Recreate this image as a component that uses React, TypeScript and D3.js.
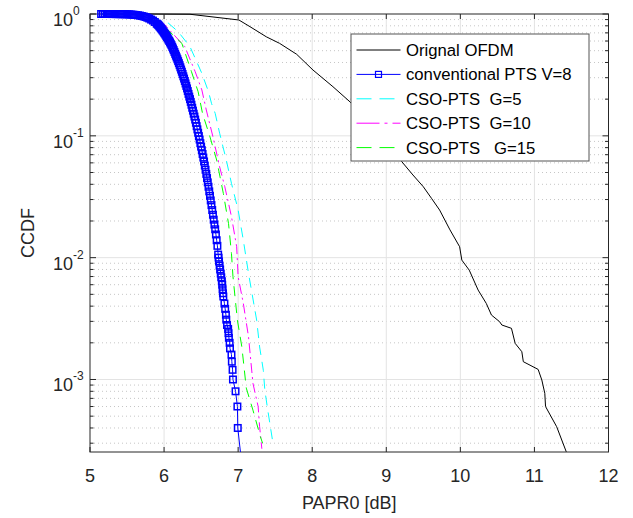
import React from "react";
import * as d3 from "d3";

// axis ticks
const paprTicks = [5, 6, 7, 8, 9, 10, 11, 12];
const decadeValues = [1e-3, 1e-2, 1e-1, 1];
const decadeExps = ["-3", "-2", "-1", "0"];

// Orignal OFDM
const origPapr = [5.15, 5.8, 6.35, 7.01, 7.16, 7.38, 7.56, 7.79, 8.01, 8.28, 8.51, 8.85, 9.21, 9.36, 9.5, 9.61, 9.72, 9.86, 9.99, 10.02, 10.12, 10.24, 10.35, 10.42, 10.53, 10.56, 10.69, 10.74, 10.83, 10.85, 11.05, 11.1, 11.14, 11.15, 11.3, 11.43];
const origCcdf = [1, 1, 0.995, 0.893, 0.787, 0.65, 0.574, 0.467, 0.347, 0.253, 0.19, 0.112, 0.0613, 0.0477, 0.0382, 0.0307, 0.0246, 0.0169, 0.0123, 0.00955, 0.0079, 0.00542, 0.00421, 0.00338, 0.00298, 0.0028, 0.00263, 0.00198, 0.00169, 0.0014, 0.00121, 0.00099, 0.00077, 0.0006, 0.00041, 0.000255];

// conventional PTS V=8 (one marker per point, dense like the original)
const ptsPapr = [
  5.15, 5.175, 5.2, 5.225, 5.25, 5.275, 5.3, 5.325, 5.35, 5.375, 5.4, 5.425, 5.45, 5.475, 5.5, 5.525, 5.55, 5.575, 5.6, 5.625,
  5.65, 5.675, 5.7, 5.725, 5.75, 5.775, 5.8, 5.825, 5.85, 5.875, 5.9, 5.91, 5.92, 5.93, 5.94, 5.95, 5.96, 5.97, 5.98, 5.99,
  6.0, 6.01, 6.02, 6.03, 6.04, 6.05, 6.06, 6.07, 6.08, 6.09, 6.1, 6.11, 6.12, 6.13, 6.14, 6.15, 6.16, 6.17, 6.18, 6.19,
  6.2, 6.21, 6.22, 6.23, 6.24, 6.25, 6.26, 6.27, 6.28, 6.29, 6.3, 6.31, 6.32, 6.33, 6.34, 6.35, 6.36, 6.37, 6.38, 6.39,
  6.4, 6.41, 6.42, 6.43, 6.44, 6.45, 6.46, 6.47, 6.48, 6.49, 6.5, 6.51, 6.52, 6.53, 6.54, 6.55, 6.56, 6.57, 6.58, 6.59,
  6.6, 6.61, 6.62, 6.63, 6.64, 6.65, 6.66, 6.67, 6.68, 6.69, 6.7, 6.71, 6.72, 6.73, 6.736, 6.742, 6.75, 6.757, 6.765, 6.772,
  6.78, 6.785, 6.79, 6.795, 6.8, 6.815, 6.825, 6.835, 6.84, 6.85, 6.865, 6.87, 6.875, 6.885, 6.89, 6.91, 6.915, 6.925, 6.93, 6.965,
  6.99, 6.995, 7.05,
];
const ptsCcdf = [
  1, 1, 1, 1, 1, 0.9995, 0.999, 0.999, 0.998, 0.998, 0.997, 0.997, 0.996, 0.995, 0.995, 0.993, 0.991, 0.988, 0.985, 0.981,
  0.976, 0.97, 0.963, 0.955, 0.945, 0.932, 0.918, 0.9, 0.883, 0.86, 0.835, 0.825, 0.815, 0.802, 0.788, 0.775, 0.761, 0.748, 0.733, 0.719,
  0.704, 0.69, 0.675, 0.66, 0.645, 0.63, 0.615, 0.6, 0.585, 0.57, 0.555, 0.538, 0.521, 0.505, 0.488, 0.471, 0.455, 0.44, 0.425, 0.41,
  0.395, 0.38, 0.365, 0.35, 0.336, 0.322, 0.308, 0.295, 0.282, 0.269, 0.257, 0.245, 0.233, 0.221, 0.21, 0.2, 0.19, 0.18, 0.17, 0.161,
  0.152, 0.144, 0.136, 0.128, 0.12, 0.113, 0.106, 0.0995, 0.0932, 0.087, 0.0815, 0.0762, 0.071, 0.0663, 0.0616, 0.057, 0.0527, 0.0487, 0.045, 0.0415,
  0.0382, 0.035, 0.0322, 0.0295, 0.027, 0.0246, 0.0225, 0.0205, 0.0187, 0.0171, 0.0155, 0.0139, 0.0125, 0.0106, 0.01, 0.0093, 0.0086, 0.008, 0.0074, 0.0069,
  0.0064, 0.006, 0.0055, 0.0051, 0.0048, 0.0042, 0.0038, 0.0034, 0.0031, 0.0028, 0.0026, 0.0024, 0.0022, 0.002, 0.0018, 0.0016, 0.0014, 0.0012, 0.001, 0.0008,
  0.0006, 0.0004, 0.0002,
];

// CSO-PTS G=5
const cso5Papr = [5.15, 5.67, 6.06, 6.19, 6.35, 6.51, 6.6, 6.64, 6.69, 6.75, 6.84, 6.91, 7.0, 7.07, 7.14, 7.25, 7.29, 7.34, 7.36, 7.4, 7.47];
const cso5Ccdf = [1, 0.985, 0.839, 0.716, 0.539, 0.326, 0.23, 0.185, 0.153, 0.105, 0.0633, 0.0407, 0.0246, 0.0139, 0.00743, 0.00307, 0.00185, 0.00119, 0.00082, 0.00056, 0.0003];

// CSO-PTS G=10
const cso10Papr = [5.15, 5.67, 5.99, 6.28, 6.42, 6.51, 6.57, 6.66, 6.75, 6.82, 6.91, 6.98, 7.0, 7.07, 7.14, 7.2, 7.27, 7.29, 7.32];
const cso10Ccdf = [1, 0.984, 0.839, 0.539, 0.336, 0.238, 0.163, 0.098, 0.0557, 0.0382, 0.0217, 0.0123, 0.00697, 0.00421, 0.00224, 0.00093, 0.0006, 0.00041, 0.00027];

// CSO-PTS G=15
const cso15Papr = [5.15, 5.67, 5.94, 6.24, 6.37, 6.46, 6.52, 6.62, 6.71, 6.8, 6.87, 6.91, 6.93, 6.99, 7.05, 7.11, 7.2, 7.3, 7.33];
const cso15Ccdf = [1, 0.984, 0.86, 0.574, 0.336, 0.23, 0.152, 0.098, 0.0633, 0.0337, 0.0191, 0.0108, 0.007, 0.00307, 0.00185, 0.00085, 0.00056, 0.00034, 0.0003];

const legendLabels = ["Orignal OFDM", "conventional PTS V=8", "CSO-PTS  G=5", "CSO-PTS  G=10", "CSO-PTS   G=15"];

const W = 633, H = 518;
const L = 90, R = 608.5, T = 14, B = 452;
const FONT = "'Liberation Sans', Arial, Helvetica, sans-serif";
const AX = "#262626";
const MS = 6.5; // marker size

export default function App() {
  const x = d3.scaleLinear().domain([5, 12]).range([L, R]);
  const y = d3.scaleLog().domain([2.54e-4, 1]).range([B, T]);

  const line = d3.line<[number, number]>().x(d => x(d[0])).y(d => y(d[1]));
  const pairs = (a: number[], b: number[]) => a.map((v, i) => [v, b[i]] as [number, number]);

  const minor: number[] = [];
  [1e-4, 1e-3, 1e-2, 1e-1].forEach(d => {
    for (let k = 2; k <= 9; k++) {
      const v = k * d;
      if (v >= 2.54e-4 && v < 1) minor.push(v);
    }
  });

  const series = [
    { p: origPapr, c: origCcdf, color: "#000000", dash: "" },
    { p: cso5Papr, c: cso5Ccdf, color: "#00ffff", dash: "10,7" },
    { p: cso10Papr, c: cso10Ccdf, color: "#ff00ff", dash: "10,4,2,4" },
    { p: cso15Papr, c: cso15Ccdf, color: "#00ff00", dash: "10,7" },
  ];

  const ptsPts = pairs(ptsPapr, ptsCcdf);
  const lx = 351, ly = 34, lw = 238, lh = 127;
  const legendStyles = [
    { color: "#000000", dash: "" },
    { color: "#0000ff", dash: "" },
    { color: "#00ffff", dash: "15,8" },
    { color: "#ff00ff", dash: "23,5,3,5" },
    { color: "#00ff00", dash: "15,8" },
  ];

  return (
    <svg width={W} height={H} style={{ position: "absolute", left: 0, top: 0, background: "#fff" }} fontFamily={FONT}>
      <defs>
        <clipPath id="plot">
          <rect x={L} y={T - 4} width={R - L} height={B - T + 4} />
        </clipPath>
      </defs>
      <rect x={0} y={0} width={W} height={H} fill="#fff" />
      {/* grid */}
      {minor.map(v => (
        <line key={"m" + v} x1={L} x2={R} y1={y(v)} y2={y(v)} stroke="#c6c6c6" strokeWidth={1} strokeDasharray="1,3" />
      ))}
      {decadeValues.slice(0, 3).map(v => (
        <line key={"g" + v} x1={L} x2={R} y1={y(v)} y2={y(v)} stroke="#e3e3e3" strokeWidth={1} />
      ))}
      {paprTicks.slice(1, -1).map(v => (
        <line key={"gx" + v} x1={x(v)} x2={x(v)} y1={T} y2={B} stroke="#e3e3e3" strokeWidth={1} />
      ))}
      {/* box */}
      <rect x={L} y={T} width={R - L} height={B - T} fill="none" stroke={AX} strokeWidth={1} />
      {/* data */}
      <g clipPath="url(#plot)" fill="none">
        {series.map((s, i) => (
          <path key={i} d={line(pairs(s.p, s.c)) || ""} stroke={s.color} strokeWidth={1} strokeDasharray={s.dash || undefined} />
        ))}
        <path d={line(ptsPts) || ""} stroke="#0000ff" strokeWidth={1} />
        {ptsPts.map((d, i) => (
          <rect key={i} x={x(d[0]) - MS / 2} y={y(d[1]) - MS / 2} width={MS} height={MS} stroke="#0000ff" strokeWidth={1.5} fill="none" />
        ))}
      </g>
      {/* ticks */}
      {paprTicks.map(v => (
        <g key={"tx" + v}>
          <line x1={x(v)} x2={x(v)} y1={B} y2={B - 5} stroke={AX} />
          <line x1={x(v)} x2={x(v)} y1={T} y2={T + 5} stroke={AX} />
          <text x={x(v)} y={482} textAnchor="middle" fontSize={18} fill={AX}>{v}</text>
        </g>
      ))}
      {decadeValues.map((v, i) => (
        <g key={"ty" + v}>
          <line x1={L} x2={L + 6} y1={y(v)} y2={y(v)} stroke={AX} />
          <line x1={R} x2={R - 6} y1={y(v)} y2={y(v)} stroke={AX} />
          <text x={73} y={y(v) + 12} textAnchor="end" fontSize={18} fill={AX}>10</text>
          <text x={73} y={y(v) + 1} textAnchor="start" fontSize={12} fill={AX}>{decadeExps[i]}</text>
        </g>
      ))}
      {minor.map(v => (
        <g key={"mt" + v}>
          <line x1={L} x2={L + 3.5} y1={y(v)} y2={y(v)} stroke={AX} />
          <line x1={R} x2={R - 3.5} y1={y(v)} y2={y(v)} stroke={AX} />
        </g>
      ))}
      <text x={(L + R) / 2} y={509} textAnchor="middle" fontSize={18} fill={AX}>PAPR0 [dB]</text>
      <text transform={`translate(34,${(T + B) / 2}) rotate(-90)`} textAnchor="middle" fontSize={18} fill={AX}>CCDF</text>
      {/* legend */}
      <rect x={lx} y={ly} width={lw} height={lh} fill="#fff" stroke="#555" strokeWidth={1} />
      {legendLabels.map((lab, i) => {
        const cy = 50 + i * 24.4;
        const st = legendStyles[i];
        return (
          <g key={lab}>
            <line x1={356.5} x2={400.5} y1={cy} y2={cy} stroke={st.color} strokeWidth={1} strokeDasharray={st.dash || undefined} />
            {i === 1 && <rect x={375.5} y={cy - 3} width={6} height={6} fill="none" stroke="#0000ff" strokeWidth={1.2} />}
            <text x={406} y={cy + 6} fontSize={16.7} fill="#000" style={{ whiteSpace: "pre" }}>{lab}</text>
          </g>
        );
      })}
    </svg>
  );
}
